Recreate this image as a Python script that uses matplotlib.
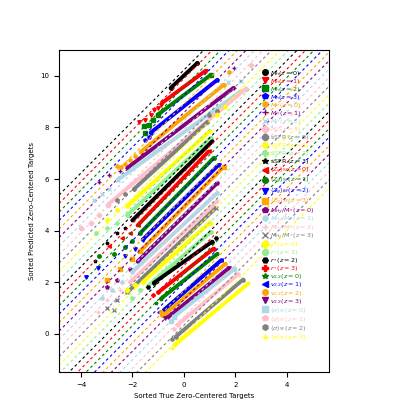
import matplotlib
matplotlib.use('Agg')
import matplotlib.pyplot as plt

# series: 8 quantities x 4 redshifts
quantities = [r'$M_h', r'$M_*', r'sSFR $', r'$\langle Z_g\rangle_{\rm SF}',
              r'$M_{\rm H_2}/M_*', r'$r_*', r'$v_{2.2}', r'$\langle\sigma\rangle_{\rm SF}']
redshifts = [0, 1, 2, 3]
colors = ['black', 'red', 'green', 'blue', 'orange', 'purple', 'lightblue',
          'pink', 'gray', 'yellow', 'lightgreen']
markers = ['o', 'v', 's', 'p', 'h', '+', 'x', 'D', '8', 'H', 'P', '*', '<']

# offset of each reference line y = x + offset
offsets = [10.23, 9.90, 9.57, 9.24, 8.91, 8.58, 8.25, 7.92, 7.59, 7.26, 6.93,
           6.60, 6.27, 5.94, 5.61, 5.28, 4.95, 4.62, 4.29, 3.96, 3.63, 3.30,
           2.97, 2.64, 2.31, 1.98, 1.65, 1.32, 0.99, 0.66, 0.33, 0.00]

# dense part of every sorted series (true, predicted)
band_x = [[-0.52, 0.52], [-0.85, 0.84], [-1.02, 1.04], [-1.29, 1.3],
          [-1.68, 1.55], [-2.2, 1.93], [-2.58, 2.2], [-2.96, 2.4],
          [-1.95, 0.9], [-2.2, 1.0], [-2.2, 1.05], [-2.0, 1.1],
          [-1.8, 0.96], [-1.7, 1.16], [-1.6, 1.35], [-1.7, 1.55],
          [-1.8, 1.3], [-2.0, 1.3], [-2.1, 1.3], [-2.2, 1.23],
          [-1.6, 1.0], [-1.4, 1.05], [-1.17, 1.1], [-1.0, 1.15],
          [-0.9, 1.3], [-0.78, 1.45], [-0.7, 1.6], [-0.6, 1.75],
          [-0.4, 1.95], [-0.25, 2.1], [-0.32, 2.3], [-0.36, 2.5]]
band_y = [[9.53, 10.5], [8.95, 10.2], [8.49, 10.04], [7.8, 9.85],
          [7.05, 9.66], [6.43, 9.54], [5.96, 9.4], [5.0, 9.5],
          [5.6, 8.2], [4.95, 7.85], [4.6, 7.6], [4.4, 7.46],
          [4.2, 7.07], [3.9, 6.82], [3.65, 6.55], [3.2, 6.48],
          [2.8, 5.85], [2.4, 5.46], [2.0, 5.15], [1.6, 4.87],
          [2.0, 4.3], [1.85, 3.95], [1.97, 3.57], [1.6, 3.3],
          [1.35, 3.1], [0.92, 2.85], [0.8, 2.7], [0.65, 2.55],
          [0.65, 2.5], [0.34, 2.3], [-0.12, 2.1], [-0.44, 1.95]]

# sparse tails
tail_x = [[], [-0.9, -1.02, -1.17, -1.29, -1.5, -1.76], [-1.2, -1.37, -1.5, -1.56],
          [-1.37, -1.5], [-1.9, -2.1, -2.3, -2.46, -2.6, 1.74],
          [-2.5, -2.9, -3.3, 1.94], [-2.9, -3.2, -3.5, 1.7, 2.2],
          [-3.3, -3.6, -4.0, 2.6],
          [0.96, 1.3, -2.3, -2.6], [1.3, 1.6, -2.6, -3.0], [-2.6, -3.0, -3.4],
          [-2.3, -2.6, -3.0, -3.45], [-2.1, -2.4, -2.9], [-2.0, -2.3, -2.7, -3.3],
          [-1.9, -2.3, -3.35, -3.8], [-2.0, -2.5, -3.0], [-2.1, -2.6, -3.0],
          [-2.4, -2.8, -3.2], [-2.5, -3.0, -3.35], [-2.6, -3.0, -2.73],
          [-1.9, -2.2], [-1.7, -2.0], [-1.4, 1.23], [-1.2], [-1.1], [-0.95],
          [-0.9, -0.85], [-0.75], [-0.5], [-0.4], [-0.45], [-0.45]]
tail_y = [[], [8.87, 8.76, 8.69, 8.49, 8.3, 8.22], [8.3, 8.1, 7.8, 8.05],
          [7.64, 7.5], [6.9, 6.75, 6.6, 6.47, 6.5, 10.16],
          [6.3, 6.15, 5.9, 10.3], [5.6, 5.4, 5.2, 9.75, 9.8],
          [4.6, 4.3, 4.1, 10.43],
          [8.5, 8.65, 5.4, 5.2], [8.5, 8.8, 4.8, 4.4], [4.3, 4.1, 3.9],
          [4.1, 3.9, 3.5, 2.8], [3.9, 3.7, 3.4], [3.6, 3.35, 3.1, 3.0],
          [3.3, 3.0, 2.55, 2.2], [2.9, 2.5, 2.1], [2.5, 2.1, 1.8],
          [2.0, 1.7, 1.4], [1.7, 1.3, 0.84], [1.3, 1.0, 0.92],
          [1.9, 1.7], [1.7, 1.4], [1.8, 3.7], [1.5], [1.2], [0.85],
          [0.84, 0.72], [0.6], [0.5], [0.2], [-0.2], [-0.55]]

plt.rcParams['font.size'] = 5
fig = plt.figure(figsize=(3.99, 4.19), dpi=100)
ax = fig.add_axes([0.148, 0.112, 0.677, 0.769])

xl = [-4.85, 5.64]
for i in range(32):
    c = colors[i % len(colors)]
    m = markers[i % len(markers)]
    label = quantities[i // 4] + r'(z=%d)$' % redshifts[i % 4]
    ax.plot(xl, [xl[0] + offsets[i], xl[1] + offsets[i]], color=c, lw=0.8,
            linestyle=(0, (2.5, 2.5)))
    ax.plot(band_x[i], band_y[i], color=c, lw=2.8, solid_capstyle='round',
            marker=m, ms=2.5)
    ax.plot(tail_x[i], tail_y[i], color=c, ls='none', marker=m, ms=2.5,
            label=label)

ax.set_xlim(xl)
ax.set_ylim(-1.49, 11.01)
ax.set_xticks([-4, -2, 0, 2, 4])
ax.set_yticks([0, 2, 4, 6, 8, 10])
ax.set_xlabel('Sorted True Zero-Centered Targets')
ax.set_ylabel('Sorted Predicted Zero-Centered Targets')
ax.legend(loc='upper left', bbox_to_anchor=(0.74, 0.95), frameon=False,
          labelcolor='linecolor', markerscale=1.6, handletextpad=0.3,
          labelspacing=-0.15, handlelength=1.0, borderaxespad=0,
          fontsize=4.6)

fig.savefig('out.png', dpi=100)
